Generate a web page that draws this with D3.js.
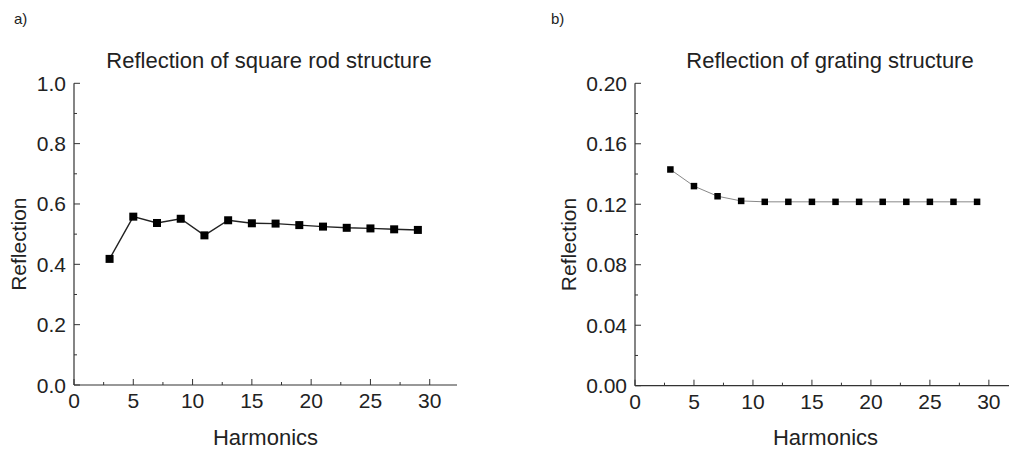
<!DOCTYPE html>
<html>
<head>
<meta charset="utf-8">
<script src="https://cdn.jsdelivr.net/npm/d3@7"></script>
<style>
  body { margin: 0; background: #fff; }
  svg { display: block; font-family: "Liberation Sans", Arial, sans-serif; }
</style>
</head>
<body>
<svg id="chart" width="1009" height="454"></svg>
<script>
// harmonics (x) shared by both panels
const harmonics = [3, 5, 7, 9, 11, 13, 15, 17, 19, 21, 23, 25, 27, 29];
// panel a: square rod structure
const rodReflection = [0.418, 0.558, 0.537, 0.551, 0.496, 0.546, 0.536, 0.535, 0.530, 0.525, 0.521, 0.519, 0.516, 0.514];
// panel b: grating structure
const gratingReflection = [0.143, 0.132, 0.1253, 0.1222, 0.1216, 0.1216, 0.1216, 0.1216, 0.1216, 0.1216, 0.1216, 0.1216, 0.1216, 0.1216];

const xTicks = [0, 5, 10, 15, 20, 25, 30];
const rodYTicks = [0, 0.2, 0.4, 0.6, 0.8, 1.0];
const gratingYTicks = [0, 0.04, 0.08, 0.12, 0.16, 0.20];

const svg = d3.select("#chart");

function drawPanel(opt){
    const g = svg.append("g");
    const x = d3.scaleLinear().domain([0, 32.3]).range([opt.left, opt.right]);
    const y = d3.scaleLinear().domain(opt.yDomain).range([opt.bottom, opt.top]);

    //axis lines
    g.append("line").attr("x1", opt.left).attr("x2", opt.right)
        .attr("y1", opt.bottom).attr("y2", opt.bottom)
        .attr("stroke", "#333").attr("stroke-width", 1.2);
    g.append("line").attr("x1", opt.left).attr("x2", opt.left)
        .attr("y1", opt.bottom).attr("y2", opt.top)
        .attr("stroke", "#333").attr("stroke-width", 1.2);

    //x ticks, inward, with minor ticks between
    const xMinor = d3.range(2.5, 32.3, 5);
    g.selectAll(".xmaj").data(xTicks).enter().append("line")
        .attr("x1", d => x(d)).attr("x2", d => x(d))
        .attr("y1", opt.bottom).attr("y2", opt.bottom - 6)
        .attr("stroke", "#333");
    g.selectAll(".xmin").data(xMinor).enter().append("line")
        .attr("x1", d => x(d)).attr("x2", d => x(d))
        .attr("y1", opt.bottom).attr("y2", opt.bottom - 3)
        .attr("stroke", "#333");
    g.selectAll(".xlab").data(xTicks).enter().append("text")
        .attr("x", d => x(d)).attr("y", opt.bottom + 23)
        .attr("text-anchor", "middle").attr("font-size", 21).attr("fill", "#222")
        .text(d => d);

    //y ticks
    const step = opt.yTicks[1] - opt.yTicks[0];
    const yMinor = opt.yTicks.slice(0, -1).map(d => d + step / 2);
    g.selectAll(".ymaj").data(opt.yTicks).enter().append("line")
        .attr("x1", opt.left).attr("x2", opt.left + 6)
        .attr("y1", d => y(d)).attr("y2", d => y(d))
        .attr("stroke", "#333");
    g.selectAll(".ymin").data(yMinor).enter().append("line")
        .attr("x1", opt.left).attr("x2", opt.left + 3)
        .attr("y1", d => y(d)).attr("y2", d => y(d))
        .attr("stroke", "#333");
    g.selectAll(".ylab").data(opt.yTicks).enter().append("text")
        .attr("x", opt.left - 8).attr("y", d => y(d) + 7.5)
        .attr("text-anchor", "end").attr("font-size", 21).attr("fill", "#222")
        .text(d => d3.format(opt.yFormat)(d));

    //labels
    g.append("text").attr("x", (opt.left + opt.right) / 2).attr("y", 445)
        .attr("text-anchor", "middle").attr("font-size", 22).attr("fill", "#222")
        .text("Harmonics");
    g.append("text")
        .attr("transform", `translate(${opt.yLabelX},${(opt.top + opt.bottom) / 2 + 10}) rotate(-90)`)
        .attr("text-anchor", "middle").attr("font-size", 21).attr("fill", "#222")
        .text("Reflection");
    g.append("text").attr("x", opt.titleX).attr("y", 68)
        .attr("text-anchor", "middle").attr("font-size", 22).attr("fill", "#222")
        .text(opt.title);
    g.append("text").attr("x", opt.tagX).attr("y", 24)
        .attr("font-size", 15).attr("fill", "#222")
        .text(opt.tag);

    //line + square markers
    const pts = harmonics.map((h, i) => ({x: h, y: opt.values[i]}));
    const line = d3.line().x(d => x(d.x)).y(d => y(d.y));
    g.append("path").attr("d", line(pts))
        .attr("fill", "none").attr("stroke", opt.lineColor).attr("stroke-width", opt.lineWidth);
    g.selectAll(".mk").data(pts).enter().append("rect")
        .attr("x", d => x(d.x) - opt.mark / 2).attr("y", d => y(d.y) - opt.mark / 2)
        .attr("width", opt.mark).attr("height", opt.mark)
        .attr("fill", "#000");
}

drawPanel({
    left: 74, right: 457, top: 83.3, bottom: 385,
    yDomain: [0, 1.0], yTicks: rodYTicks, yFormat: ".1f",
    values: rodReflection, title: "Reflection of square rod structure",
    titleX: 269, yLabelX: 26, tag: "a)", tagX: 14,
    lineColor: "#222", lineWidth: 1.4, mark: 8
});
drawPanel({
    left: 635, right: 1016, top: 83.3, bottom: 385.7,
    yDomain: [0, 0.2], yTicks: gratingYTicks, yFormat: ".2f",
    values: gratingReflection, title: "Reflection of grating structure",
    titleX: 830, yLabelX: 576, tag: "b)", tagX: 551,
    lineColor: "#888", lineWidth: 1, mark: 6.5
});
</script>
</body>
</html>
